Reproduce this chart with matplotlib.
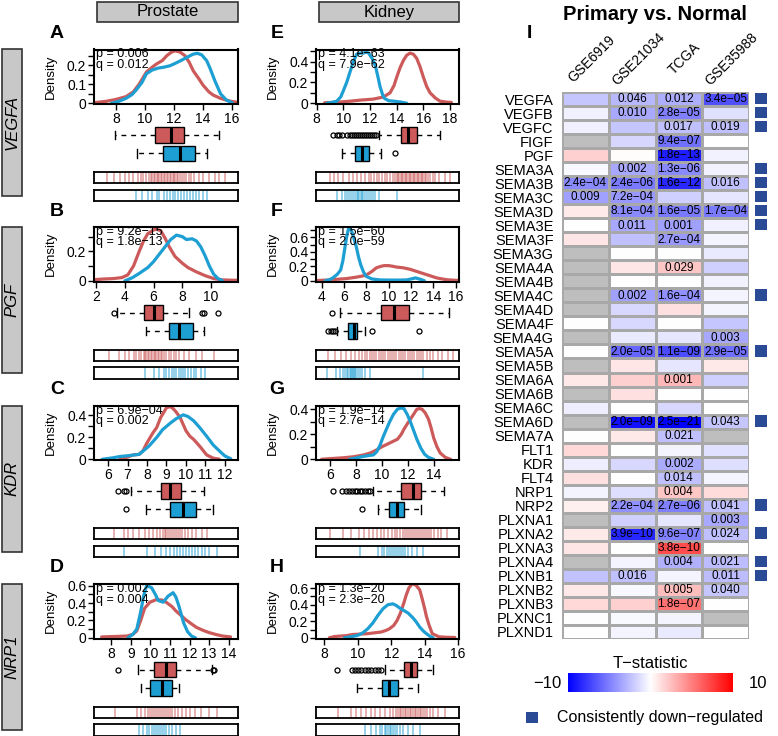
import matplotlib
matplotlib.use('Agg')
import matplotlib.pyplot as plt
import numpy as np
from matplotlib.patches import Rectangle

plt.rcParams['font.family'] = ['Liberation Sans', 'DejaVu Sans']

# ---------------- data: density curves ----------------
A_red_x = [6.5, 7.3, 8.0, 8.7, 9.2, 9.6, 10.1, 10.5, 10.8, 11.2, 11.5, 11.8, 12.07, 12.4, 12.76, 13.05, 13.33, 13.7, 14.0, 14.4, 14.7, 15.2, 15.8, 16.3]
A_red_y = [0.003, 0.01, 0.02, 0.035, 0.06, 0.1, 0.164, 0.19, 0.207, 0.225, 0.25, 0.268, 0.276, 0.27, 0.25, 0.215, 0.17, 0.13, 0.095, 0.06, 0.043, 0.026, 0.012, 0.006]
A_blue_x = [7.7, 8.2, 8.7, 9.1, 9.4, 9.8, 10.1, 10.5, 10.9, 11.3, 11.7, 12.0, 12.4, 12.8, 13.3, 13.6, 13.9, 14.25, 14.5, 14.8, 15.2, 15.6, 16.0]
A_blue_y = [0.0, 0.01, 0.026, 0.045, 0.07, 0.11, 0.155, 0.175, 0.185, 0.19, 0.197, 0.207, 0.222, 0.238, 0.258, 0.263, 0.255, 0.224, 0.18, 0.12, 0.05, 0.017, 0.003]

B_red_x = [1.9, 2.5, 3.2, 3.8, 4.2, 4.6, 5.0, 5.3, 5.6, 6.0, 6.2, 6.5, 6.8, 7.1, 7.5, 8.0, 8.4, 9.0, 9.6, 10.2, 10.8, 11.4, 11.9]
B_red_y = [0.008, 0.012, 0.015, 0.022, 0.04, 0.1, 0.2, 0.27, 0.32, 0.345, 0.35, 0.34, 0.29, 0.23, 0.165, 0.12, 0.09, 0.06, 0.035, 0.015, 0.006, 0.004, 0.003]
B_blue_x = [4.0, 4.5, 5.0, 5.6, 6.0, 6.4, 6.8, 7.2, 7.6, 8.0, 8.3, 8.7, 9.0, 9.3, 9.6, 9.9, 10.2, 10.5, 10.8]
B_blue_y = [0.0, 0.02, 0.05, 0.09, 0.13, 0.18, 0.23, 0.28, 0.31, 0.3, 0.28, 0.285, 0.27, 0.23, 0.17, 0.1, 0.045, 0.015, 0.002]

C_red_x = [6.6, 7.0, 7.3, 7.6, 7.8, 8.0, 8.3, 8.5, 8.7, 9.0, 9.2, 9.35, 9.5, 9.7, 10.0, 10.2, 10.4, 10.7, 11.06, 11.4, 11.7]
C_red_y = [0.005, 0.02, 0.04, 0.045, 0.08, 0.15, 0.24, 0.29, 0.38, 0.47, 0.48, 0.46, 0.43, 0.38, 0.26, 0.21, 0.18, 0.12, 0.04, 0.01, 0.002]
C_blue_x = [5.7, 6.2, 6.6, 7.0, 7.6, 8.1, 8.5, 8.8, 9.2, 9.5, 9.86, 10.1, 10.4, 10.7, 11.06, 11.4, 11.75, 12.0, 12.3]
C_blue_y = [0.0, 0.012, 0.025, 0.032, 0.045, 0.12, 0.2, 0.27, 0.33, 0.37, 0.405, 0.39, 0.35, 0.29, 0.21, 0.13, 0.07, 0.03, 0.005]

D_red_x = [7.5, 8.2, 8.8, 9.1, 9.3, 9.5, 9.7, 9.97, 10.3, 10.6, 10.8, 11.1, 11.3, 11.6, 11.8, 12.1, 12.35, 12.7, 13.0, 13.4, 13.7, 14.1]
D_red_y = [0.01, 0.015, 0.02, 0.04, 0.08, 0.2, 0.34, 0.41, 0.44, 0.435, 0.41, 0.36, 0.31, 0.25, 0.21, 0.16, 0.12, 0.085, 0.06, 0.035, 0.02, 0.01]
D_blue_x = [8.85, 9.1, 9.3, 9.5, 9.65, 9.8, 10.05, 10.25, 10.4, 10.65, 10.9, 11.16, 11.3, 11.45, 11.7, 11.9, 12.1, 12.3]
D_blue_y = [0.0, 0.04, 0.1, 0.3, 0.48, 0.6, 0.58, 0.5, 0.43, 0.41, 0.48, 0.52, 0.47, 0.37, 0.17, 0.07, 0.02, 0.0]

E_red_x = [8.6, 9.5, 10.5, 11.25, 12.25, 13.0, 13.5, 13.8, 14.0, 14.25, 14.5, 14.75, 15.0, 15.25, 15.5, 15.75, 16.0, 16.25, 16.5, 16.9, 17.25, 17.7, 18.1]
E_red_y = [0.005, 0.01, 0.02, 0.03, 0.04, 0.06, 0.1, 0.17, 0.25, 0.34, 0.41, 0.46, 0.48, 0.47, 0.43, 0.35, 0.25, 0.16, 0.1, 0.05, 0.02, 0.012, 0.008]
E_blue_x = [8.75, 9.2, 9.5, 9.8, 10.0, 10.25, 10.5, 10.75, 11.0, 11.25, 11.5, 11.7, 11.9, 12.15, 12.4, 12.6, 12.75, 12.95, 13.1, 13.4, 13.8, 14.3, 14.75]
E_blue_y = [0.0, 0.01, 0.02, 0.06, 0.12, 0.2, 0.3, 0.4, 0.47, 0.48, 0.48, 0.49, 0.48, 0.43, 0.36, 0.25, 0.16, 0.08, 0.045, 0.025, 0.02, 0.012, 0.0]

F_red_x = [3.5, 4.5, 5.3, 6.2, 7.1, 7.6, 8.0, 8.5, 8.9, 9.3, 9.6, 10.0, 10.4, 10.7, 11.3, 11.9, 12.5, 13.1, 13.7, 14.3, 14.8, 15.2, 15.8, 16.2]
F_red_y = [0.003, 0.01, 0.02, 0.03, 0.05, 0.065, 0.08, 0.13, 0.18, 0.2, 0.21, 0.21, 0.2, 0.19, 0.18, 0.16, 0.13, 0.1, 0.07, 0.04, 0.025, 0.015, 0.008, 0.005]
F_blue_x = [4.3, 4.7, 5.0, 5.4, 5.7, 5.9, 6.1, 6.25, 6.4, 6.55, 6.7, 6.9, 7.1, 7.3, 7.5, 7.75, 8.0, 8.5, 9.2, 10.0, 11.0, 11.6, 12.0, 12.4, 12.85, 13.2]
F_blue_y = [0.0, 0.015, 0.04, 0.09, 0.15, 0.28, 0.48, 0.62, 0.72, 0.73, 0.68, 0.58, 0.47, 0.33, 0.22, 0.12, 0.06, 0.025, 0.012, 0.01, 0.01, 0.012, 0.025, 0.04, 0.02, 0.0]

G_red_x = [5.35, 6.0, 7.0, 7.8, 8.6, 9.1, 9.6, 10.0, 10.4, 10.8, 11.2, 11.5, 11.7, 12.0, 12.2, 12.45, 12.7, 12.9, 13.1, 13.35, 13.6, 13.8, 14.0, 14.25, 14.5, 14.9, 15.3]
G_red_y = [0.0, 0.005, 0.012, 0.02, 0.035, 0.05, 0.075, 0.1, 0.12, 0.14, 0.16, 0.2, 0.24, 0.29, 0.32, 0.36, 0.4, 0.405, 0.4, 0.37, 0.32, 0.25, 0.17, 0.1, 0.05, 0.015, 0.0]
G_blue_x = [7.5, 8.0, 8.5, 9.0, 9.35, 9.6, 9.85, 10.1, 10.35, 10.6, 10.9, 11.2, 11.45, 11.7, 11.95, 12.2, 12.45, 12.7, 13.0, 13.3, 13.6, 14.0]
G_blue_y = [0.0, 0.01, 0.022, 0.03, 0.035, 0.06, 0.11, 0.18, 0.24, 0.3, 0.36, 0.4, 0.41, 0.405, 0.36, 0.3, 0.23, 0.16, 0.09, 0.04, 0.015, 0.0]

H_red_x = [8.3, 8.6, 8.9, 9.3, 9.7, 10.2, 10.6, 11.0, 11.4, 11.7, 11.9, 12.15, 12.35, 12.55, 12.75, 12.9, 13.05, 13.2, 13.35, 13.5, 13.7, 13.85, 14.0, 14.1, 14.25, 14.45, 14.85, 15.3, 15.8]
H_red_y = [0.0, 0.015, 0.02, 0.025, 0.04, 0.045, 0.05, 0.06, 0.07, 0.09, 0.11, 0.15, 0.21, 0.3, 0.42, 0.52, 0.6, 0.64, 0.65, 0.63, 0.58, 0.47, 0.35, 0.26, 0.16, 0.05, 0.012, 0.006, 0.004]
H_blue_x = [9.2, 9.6, 10.0, 10.3, 10.6, 10.9, 11.2, 11.5, 11.8, 12.1, 12.3, 12.5, 12.75, 13.0, 13.3, 13.5, 13.7, 13.9, 14.1, 14.3, 14.5]
H_blue_y = [0.0, 0.012, 0.03, 0.06, 0.11, 0.18, 0.27, 0.35, 0.4, 0.41, 0.39, 0.36, 0.33, 0.3, 0.24, 0.19, 0.13, 0.085, 0.05, 0.02, 0.0]

# ---------------- box statistics [whislo, q1, med, q3, whishi] + fliers ----------------
A_red_box = [7.93, 10.69, 11.77, 12.69, 15.06]; A_red_out = []
A_blue_box = [9.43, 11.22, 12.41, 13.45, 14.3]; A_blue_out = []
B_red_box = [3.45, 5.35, 6.02, 6.68, 8.5]; B_red_out = [3.25, 9.37, 9.53, 10.5]
B_blue_box = [5.5, 7.1, 7.8, 8.78, 9.53]; B_blue_out = []
C_red_box = [7.2, 8.74, 9.17, 9.77, 10.9]; C_red_out = [6.5, 6.8, 6.9]
C_blue_box = [7.97, 9.17, 9.83, 10.5, 11.4]; C_blue_out = [6.94]
D_red_box = [9.37, 10.17, 10.77, 11.33, 13.13]; D_red_out = [8.34, 13.2, 13.25]
D_blue_box = [9.54, 10.0, 10.6, 11.08, 11.47]; D_blue_out = []
E_red_box = [12.7, 14.3, 14.85, 15.55, 17.25]
E_red_out = [9.25, 9.5, 9.7, 9.9, 10.3, 10.5, 10.65, 10.8, 10.95, 11.1, 11.25, 11.4, 11.55, 11.7, 11.85, 12.0, 12.15, 12.3, 12.45]
E_blue_box = [9.9, 10.9, 11.4, 11.95, 12.8]; E_blue_out = [13.9]
F_red_box = [5.6, 9.3, 10.5, 11.8, 15.4]; F_red_out = [4.9]
F_blue_box = [5.4, 6.4, 6.9, 7.15, 7.9]; F_blue_out = [4.6, 4.8, 5.0, 5.15, 8.5, 12.7]
G_red_box = [9.35, 11.47, 12.4, 13.0, 14.8]
G_red_out = [6.26, 6.9, 7.2, 7.5, 7.7, 7.9, 8.1, 8.3, 8.5, 8.7, 8.9, 9.1]
G_blue_box = [9.74, 10.57, 11.16, 11.7, 13.0]; G_blue_out = [8.5]
H_red_box = [11.6, 12.75, 13.17, 13.56, 14.5]
H_red_out = [8.77, 9.67, 9.85, 10.0, 10.2, 10.4, 10.6, 10.8, 11.0, 11.2, 11.4]
H_blue_box = [9.96, 11.44, 11.85, 12.4, 13.6]; H_blue_out = []

# ---------------- rug values ----------------
A_red_rug = [7.4, 7.9, 8.3, 8.6, 8.9, 9.2, 9.5, 9.7, 9.9, 10.1, 10.25, 10.4, 10.5, 10.6, 10.7, 10.8, 10.9, 11.0, 11.1, 11.2, 11.3, 11.4, 11.5, 11.6, 11.7, 11.8, 11.9, 12.0, 12.1, 12.2, 12.3, 12.4, 12.55, 12.7, 12.85, 13.0, 13.2, 13.4, 13.7, 14.0, 14.4, 14.8, 15.1, 15.5]
A_blue_rug = [9.4, 9.8, 10.2, 10.5, 10.8, 11.0, 11.3, 11.5, 11.7, 11.9, 12.1, 12.3, 12.5, 12.7, 12.9, 13.1, 13.3, 13.5, 13.7, 14.0, 14.3]
B_red_rug = [2.9, 3.6, 4.0, 4.3, 4.6, 4.8, 5.0, 5.15, 5.3, 5.4, 5.5, 5.6, 5.7, 5.8, 5.9, 6.0, 6.1, 6.2, 6.3, 6.4, 6.5, 6.6, 6.75, 6.9, 7.05, 7.2, 7.4, 7.6, 7.8, 8.1, 8.5, 9.0, 9.4, 10.2]
B_blue_rug = [5.4, 6.0, 6.4, 6.7, 6.9, 7.1, 7.3, 7.45, 7.6, 7.75, 7.9, 8.05, 8.2, 8.4, 8.6, 8.8, 9.0, 9.3, 9.6]
C_red_rug = [6.3, 6.8, 7.0, 7.3, 7.6, 7.9, 8.1, 8.3, 8.5, 8.65, 8.8, 8.9, 9.0, 9.1, 9.2, 9.3, 9.4, 9.5, 9.6, 9.7, 9.8, 9.95, 10.1, 10.3, 10.5, 10.8, 11.1]
C_blue_rug = [6.8, 8.0, 8.4, 8.7, 9.0, 9.2, 9.4, 9.55, 9.7, 9.85, 10.0, 10.15, 10.3, 10.45, 10.6, 10.8, 11.0, 11.2, 11.6]
D_red_rug = [8.2, 9.3, 9.5, 9.7, 9.85, 10.0, 10.1, 10.2, 10.3, 10.4, 10.5, 10.6, 10.7, 10.8, 10.9, 11.0, 11.1, 11.25, 11.4, 11.6, 11.8, 12.0, 12.3, 12.6, 13.0, 13.4]
D_blue_rug = [9.4, 9.6, 9.8, 9.95, 10.1, 10.2, 10.3, 10.4, 10.5, 10.6, 10.7, 10.8, 10.95, 11.1, 11.3, 11.5]
E_red_rug = [9.0, 9.3, 9.6, 10.0, 10.4, 10.7, 11.0, 11.3, 11.6, 11.9, 12.1, 12.3, 12.5, 12.7, 12.9, 13.1, 13.3, 13.5, 13.7, 13.85, 14.0, 14.1, 14.2, 14.3, 14.4, 14.5, 14.6, 14.7, 14.8, 14.9, 15.0, 15.1, 15.2, 15.3, 15.4, 15.5, 15.6, 15.7, 15.8, 15.9, 16.0, 16.1, 16.2, 16.35, 16.5, 16.7, 16.9, 17.2, 17.6, 18.0]
E_blue_rug = [9.5, 9.9, 10.1, 10.3, 10.45, 10.6, 10.75, 10.9, 11.0, 11.1, 11.2, 11.3, 11.4, 11.5, 11.6, 11.75, 11.9, 12.05, 12.2, 12.4, 12.7, 14.0]
F_red_rug = [4.6, 5.2, 5.7, 6.2, 6.6, 7.0, 7.3, 7.6, 7.9, 8.1, 8.3, 8.5, 8.7, 8.9, 9.1, 9.3, 9.5, 9.7, 9.9, 10.1, 10.3, 10.5, 10.7, 10.9, 11.1, 11.3, 11.5, 11.7, 11.9, 12.1, 12.3, 12.5, 12.7, 12.9, 13.1, 13.4, 13.7, 14.0, 14.4, 14.8, 15.3, 15.8]
F_blue_rug = [4.45, 5.3, 5.6, 5.9, 6.1, 6.25, 6.4, 6.5, 6.6, 6.7, 6.8, 6.9, 7.0, 7.1, 7.25, 7.4, 7.6, 7.9, 8.3, 13.1]
G_red_rug = [6.0, 7.0, 7.6, 8.2, 8.6, 9.0, 9.3, 9.6, 9.9, 10.2, 10.5, 10.8, 11.0, 11.2, 11.4, 11.6, 11.8, 11.95, 12.1, 12.25, 12.4, 12.55, 12.7, 12.85, 13.0, 13.15, 13.3, 13.45, 13.6, 13.8, 14.0, 14.3, 14.6, 15.0]
G_blue_rug = [8.3, 9.7, 10.0, 10.2, 10.4, 10.55, 10.7, 10.85, 11.0, 11.15, 11.3, 11.45, 11.6, 11.8, 12.0, 12.3, 12.7, 13.2]
H_red_rug = [8.8, 9.6, 9.9, 10.2, 10.5, 10.8, 11.0, 11.3, 11.6, 11.9, 12.1, 12.3, 12.4, 12.5, 12.6, 12.7, 12.8, 12.9, 13.0, 13.1, 13.2, 13.3, 13.4, 13.5, 13.6, 13.7, 13.8, 13.9, 14.0, 14.15, 14.3, 14.5, 14.8, 15.2]
H_blue_rug = [10.4, 10.8, 11.1, 11.3, 11.45, 11.6, 11.7, 11.8, 11.9, 12.0, 12.1, 12.2, 12.35, 12.5, 12.7, 13.0, 13.3, 13.7]

# p / q values
p_values = ['0.006', '9.2e\u221215', '6.9e\u221204', '0.002', '4.1e\u221263', '1.5e\u221260', '1.9e\u221214', '1.3e\u221220']
q_values = ['0.012', '1.8e\u221213', '0.002', '0.004', '7.9e\u221262', '2.0e\u221259', '2.7e\u221214', '2.3e\u221220']
row_genes = ['VEGFA', 'PGF', 'KDR', 'NRP1']
tissues = ['Prostate', 'Kidney']

# ---------------- heatmap data ----------------
genes = ['VEGFA', 'VEGFB', 'VEGFC', 'FIGF', 'PGF', 'SEMA3A', 'SEMA3B', 'SEMA3C', 'SEMA3D', 'SEMA3E',
         'SEMA3F', 'SEMA3G', 'SEMA4A', 'SEMA4B', 'SEMA4C', 'SEMA4D', 'SEMA4F', 'SEMA4G', 'SEMA5A', 'SEMA5B',
         'SEMA6A', 'SEMA6B', 'SEMA6C', 'SEMA6D', 'SEMA7A', 'FLT1', 'KDR', 'FLT4', 'NRP1', 'NRP2',
         'PLXNA1', 'PLXNA2', 'PLXNA3', 'PLXNA4', 'PLXNB1', 'PLXNB2', 'PLXNB3', 'PLXNC1', 'PLXND1']
datasets = ['GSE6919', 'GSE21034', 'TCGA', 'GSE35988']
nan = float('nan')
t_gse6919 = [-2.2, -0.6, -0.6, nan, 1.8, -0.3, -4.6, -3.7, 0.8, 0.0, 1.0, nan, nan, nan, nan, nan, 0.0, nan, 0.0, nan,
             0.9, nan, -0.7, nan, 0.0, 1.5, -0.7, 1.2, -0.4, 0.6, nan, 0.8, 1.0, nan, -2.4, 0.9, 1.5, 0.0, 0.0]
t_gse21034 = [-2.8, -3.4, -2.2, -1.6, 0.1, -3.4, -5.2, -4.0, -4.6, -3.4, -2.5, 0.0, 1.0, 0.0, -3.7, -1.5, -1.5, -0.8, -6.0, 1.0,
              1.8, 1.2, 0.0, -9.3, 0.9, 0.0, -1.5, 0.0, -1.3, -4.3, -1.8, -8.5, 0.0, -0.4, -2.5, -0.3, 1.8, -0.3, -0.4]
t_tcga = [-3.2, -5.0, -2.5, -5.6, -8.8, -4.6, -8.4, -1.8, -5.2, -3.7, -4.0, 0.0, 2.2, 0.0, -4.3, 1.2, 0.0, -1.0, -7.0, -1.0,
          2.8, 0.0, -1.5, -10.0, -2.5, -0.4, -3.3, -2.5, 2.2, -5.0, -1.0, -5.0, 7.0, -3.1, -0.4, 2.5, 5.5, -0.4, -0.8]
t_gse35988 = [-6.8, -1.2, -2.5, 0.0, -0.5, -0.5, -2.5, -1.0, -5.2, -0.6, -0.4, -0.8, -1.8, -0.5, -0.4, -0.4, -2.2, -3.4, -5.6, 0.9,
              -1.8, 0.0, 0.0, -2.2, nan, -1.2, -1.3, -0.4, 1.4, -2.5, -3.4, -2.5, 0.0, -2.6, -2.6, -2.2, 0.0, nan, 0.0]
p_gse6919 = {'SEMA3B': '2.4e\u221204', 'SEMA3C': '0.009'}
p_gse21034 = {'VEGFA': '0.046', 'VEGFB': '0.010', 'SEMA3A': '0.002', 'SEMA3B': '2.4e\u221206', 'SEMA3C': '7.2e\u221204',
              'SEMA3D': '8.1e\u221204', 'SEMA3E': '0.011', 'SEMA4C': '0.002', 'SEMA5A': '2.0e\u221205', 'SEMA6D': '2.0e\u221209',
              'NRP2': '2.2e\u221204', 'PLXNA2': '3.9e\u221210', 'PLXNB1': '0.016'}
p_tcga = {'VEGFA': '0.012', 'VEGFB': '2.8e\u221205', 'VEGFC': '0.017', 'FIGF': '9.4e\u221207', 'PGF': '1.8e\u221213',
          'SEMA3A': '1.3e\u221206', 'SEMA3B': '1.6e\u221212', 'SEMA3D': '1.6e\u221205', 'SEMA3E': '0.001', 'SEMA3F': '2.7e\u221204',
          'SEMA4A': '0.029', 'SEMA4C': '1.6e\u221204', 'SEMA5A': '1.1e\u221209', 'SEMA6A': '0.001', 'SEMA6D': '2.5e\u221221',
          'SEMA7A': '0.021', 'KDR': '0.002', 'FLT4': '0.014', 'NRP1': '0.004', 'NRP2': '2.7e\u221206', 'PLXNA2': '9.6e\u221207',
          'PLXNA3': '3.8e\u221210', 'PLXNA4': '0.004', 'PLXNB2': '0.005', 'PLXNB3': '1.8e\u221207'}
p_gse35988 = {'VEGFA': '3.4e\u221205', 'VEGFC': '0.019', 'SEMA3B': '0.016', 'SEMA3D': '1.7e\u221204', 'SEMA4G': '0.003',
              'SEMA5A': '2.9e\u221205', 'SEMA6D': '0.043', 'NRP2': '0.041', 'PLXNA1': '0.003', 'PLXNA2': '0.024',
              'PLXNA4': '0.021', 'PLXNB1': '0.011', 'PLXNB2': '0.040'}
down_regulated = ['VEGFA', 'VEGFB', 'VEGFC', 'SEMA3A', 'SEMA3B', 'SEMA3C', 'SEMA3D', 'SEMA3E', 'SEMA4C',
                  'SEMA5A', 'SEMA6D', 'NRP2', 'PLXNA2', 'PLXNA4', 'PLXNB1']

# ---------------- styling ----------------
RED = '#CD5A5A'
BLUE = '#1E9FD3'
W, H = 778, 736
fig = plt.figure(figsize=(W / 100, H / 100), dpi=100)


def px_ax(x0, y0, x1, y1):
    return fig.add_axes([x0 / W, 1 - y1 / H, (x1 - x0) / W, (y1 - y0) / H])


def fx(x):
    return x / W


def fy(y):
    return 1 - y / H


panels = [
    ('A', 0, 0, A_red_x, A_red_y, A_blue_x, A_blue_y, A_red_box, A_red_out, A_blue_box, A_blue_out, A_red_rug, A_blue_rug,
     (6.5, 16.4), [8, 10, 12, 14, 16], 0.283, [0, 0.1, 0.2], [0.05, 0.15, 0.25]),
    ('B', 1, 0, B_red_x, B_red_y, B_blue_x, B_blue_y, B_red_box, B_red_out, B_blue_box, B_blue_out, B_red_rug, B_blue_rug,
     (1.84, 11.9), [2, 4, 6, 8, 10], 0.365, [0, 0.2], [0.1, 0.3]),
    ('C', 2, 0, C_red_x, C_red_y, C_blue_x, C_blue_y, C_red_box, C_red_out, C_blue_box, C_blue_out, C_red_rug, C_blue_rug,
     (5.28, 12.67), [6, 7, 8, 9, 10, 11, 12], 0.49, [0, 0.2, 0.4], [0.1, 0.3]),
    ('D', 3, 0, D_red_x, D_red_y, D_blue_x, D_blue_y, D_red_box, D_red_out, D_blue_box, D_blue_out, D_red_rug, D_blue_rug,
     (7.11, 14.48), [8, 9, 10, 11, 12, 13, 14], 0.62, [0, 0.2, 0.4, 0.6], [0.1, 0.3, 0.5]),
    ('E', 0, 1, E_red_x, E_red_y, E_blue_x, E_blue_y, E_red_box, E_red_out, E_blue_box, E_blue_out, E_red_rug, E_blue_rug,
     (7.95, 18.67), [8, 10, 12, 14, 16, 18], 0.515, [0, 0.2, 0.4], [0.1, 0.3, 0.5]),
    ('F', 1, 1, F_red_x, F_red_y, F_blue_x, F_blue_y, F_red_box, F_red_out, F_blue_box, F_blue_out, F_red_rug, F_blue_rug,
     (3.49, 16.3), [4, 6, 8, 10, 12, 14, 16], 0.745, [0, 0.2, 0.4, 0.6], [0.1, 0.3, 0.5, 0.7]),
    ('G', 2, 1, G_red_x, G_red_y, G_blue_x, G_blue_y, G_red_box, G_red_out, G_blue_box, G_blue_out, G_red_rug, G_blue_rug,
     (4.92, 15.95), [6, 8, 10, 12, 14], 0.43, [0, 0.2, 0.4], [0.1, 0.3]),
    ('H', 3, 1, H_red_x, H_red_y, H_blue_x, H_blue_y, H_red_box, H_red_out, H_blue_box, H_blue_out, H_red_rug, H_blue_rug,
     (7.5, 16.05), [8, 10, 12, 14, 16], 0.65, [0, 0.2, 0.4, 0.6], [0.1, 0.3, 0.5]),
]

row_tops = [49.5, 227, 405.5, 584]
col_x = [(94, 238), (316, 459)]
letter_y = [34, 212, 389, 568]
letter_x = [57, 277]


def fmt_y(v):
    return '0' if v == 0 else ('%g' % v)


for k, (letter, r, c, rx, ry, bx, by, rbox, rout, bbox, bout, rrug, brug, xl, xt, ytop, ymaj, ymin) in enumerate(panels):
    T = row_tops[r]
    x0, x1 = col_x[c]
    ax = px_ax(x0, T, x1, T + 54.5)
    ax.plot(rx, ry, color=RED, lw=2.3, solid_joinstyle='round', solid_capstyle='round')
    ax.plot(bx, by, color=BLUE, lw=2.3, solid_joinstyle='round', solid_capstyle='round')
    ax.set_xlim(*xl)
    ax.set_ylim(-0.004 * ytop / 0.3, ytop)
    ax.set_xticks(xt)
    ax.set_xticklabels([str(v) for v in xt])
    ax.set_yticks(ymaj)
    ax.set_yticklabels([fmt_y(v) for v in ymaj])
    ax.set_yticks(ymin, minor=True)
    ax.tick_params(which='both', direction='out', length=4, width=1, labelsize=10, pad=1.5)
    ax.tick_params(axis='x', pad=2)
    for s in ax.spines.values():
        s.set_linewidth(1.5)
    fig.text(fx(x0 - 43), fy(T + 27), 'Density', rotation=90, ha='center', va='center', fontsize=9.5)
    fig.text(fx(x0 + 2), fy(T + 5), 'p = ' + p_values[k], ha='left', va='center', fontsize=9)
    fig.text(fx(x0 + 2), fy(T + 15.5), 'q = ' + q_values[k], ha='left', va='center', fontsize=9)
    fig.text(fx(letter_x[c]), fy(letter_y[r]), letter, ha='center', va='center', fontsize=14, fontweight='bold')

    # boxplots
    axb = px_ax(x0, T + 74, x1, T + 116)
    stats = []
    for bxs, outs in ((rbox, rout), (bbox, bout)):
        stats.append(dict(whislo=bxs[0], q1=bxs[1], med=bxs[2], q3=bxs[3], whishi=bxs[4], fliers=outs))
    kw = dict(positions=[0.726, 0.286], widths=0.36, patch_artist=True, showfliers=True,
              boxprops=dict(lw=1.0, edgecolor='black'), medianprops=dict(color='black', lw=2.2),
              whiskerprops=dict(lw=1.0, linestyle=(0, (3.5, 3.5))), capprops=dict(lw=1.0),
              flierprops=dict(marker='o', mfc='none', mec='black', ms=3.6, mew=0.9), capwidths=0.2)
    try:
        res = axb.bxp(stats, orientation='horizontal', **kw)
    except TypeError:
        res = axb.bxp(stats, vert=False, **kw)
    res['boxes'][0].set_facecolor(RED)
    res['boxes'][1].set_facecolor(BLUE)
    axb.set_xlim(*xl)
    axb.set_ylim(0, 1)
    axb.axis('off')

    # rugs
    for (yy0, yy1, vals, col) in ((T + 122.5, T + 133.5, rrug, RED), (T + 140, T + 151.5, brug, BLUE)):
        axr = px_ax(x0, yy0, x1, yy1)
        axr.vlines(vals, 0, 1, colors=col, alpha=0.6, lw=1.1)
        axr.set_xlim(*xl)
        axr.set_ylim(0, 1)
        axr.set_xticks([])
        axr.set_yticks([])
        for s in axr.spines.values():
            s.set_linewidth(1.3)

# row label boxes
for r, g in enumerate(row_genes):
    T = row_tops[r]
    fig.patches.append(Rectangle((fx(2), fy(T + 146)), 20 / W, 146 / H, transform=fig.transFigure,
                                 facecolor='#C8C8C8', edgecolor='#333333', lw=1.2))
    fig.text(fx(12), fy(T + 73), g, rotation=90, ha='center', va='center', fontsize=12, fontstyle='italic')

# tissue headers
for c, tname in enumerate(tissues):
    x0, x1 = col_x[c]
    fig.patches.append(Rectangle((fx(x0 + 3), fy(22)), (x1 - x0 - 3) / W, 20 / H, transform=fig.transFigure,
                                 facecolor='#C8C8C8', edgecolor='#333333', lw=1.2))
    fig.text(fx((x0 + 3 + x1) / 2), fy(12), tname, ha='center', va='center', fontsize=12)

# ---------------- heatmap ----------------
n = len(genes)
data = np.array([t_gse6919, t_gse21034, t_tcga, t_gse35988]).T
cmap = plt.get_cmap('bwr').copy()
cmap.set_bad('#BEBEBE')
axh = px_ax(562, 92, 749, 639)
axh.pcolormesh(np.ma.masked_invalid(data), cmap=cmap, vmin=-10, vmax=10, edgecolors='#A8A8A8', linewidth=0.8)
axh.set_xlim(0, 4)
axh.set_ylim(n, 0)
axh.set_xticks([])
axh.set_yticks(np.arange(n) + 0.5)
axh.set_yticklabels(genes, fontsize=10.5)
axh.tick_params(axis='y', length=0, pad=6)
for s in axh.spines.values():
    s.set_visible(False)
for j, plab in enumerate([p_gse6919, p_gse21034, p_tcga, p_gse35988]):
    for i, g in enumerate(genes):
        if g in plab:
            axh.text(j + 0.5, i + 0.52, plab[g], ha='center', va='center', fontsize=8.5)

colw = (749 - 562) / 4
for j, dname in enumerate(datasets):
    cx = 562 + colw * (j + 0.5)
    fig.text(fx(cx + 6), fy(59), dname, rotation=45, ha='center', va='center', rotation_mode='anchor', fontsize=10)

axs = px_ax(755, 92, 767, 639)
axs.set_xlim(0, 1)
axs.set_ylim(n, 0)
for i, g in enumerate(genes):
    if g in down_regulated:
        axs.add_patch(Rectangle((0, i + 0.05), 1, 0.82, facecolor='#2B4A96', edgecolor='none'))
axs.axis('off')

fig.text(fx(655), fy(15), 'Primary vs. Normal', ha='center', va='center', fontsize=14.5, fontweight='bold')
fig.text(fx(529), fy(33), 'I', ha='center', va='center', fontsize=14, fontweight='bold')

# colour bar
axc = px_ax(568, 673, 733, 692)
axc.imshow(np.linspace(-10, 10, 256)[None, :], cmap='bwr', vmin=-10, vmax=10, aspect='auto', extent=[-10, 10, 0, 1])
axc.axis('off')
fig.text(fx(650), fy(663), 'T\u2212statistic', ha='center', va='center', fontsize=12)
fig.text(fx(547), fy(683), '\u221210', ha='center', va='center', fontsize=12)
fig.text(fx(758), fy(683), '10', ha='center', va='center', fontsize=12)

# legend
fig.patches.append(Rectangle((fx(526), fy(723)), 12 / W, 11 / H, transform=fig.transFigure,
                             facecolor='#2B4A96', edgecolor='none'))
fig.text(fx(557), fy(717.5), 'Consistently down\u2212regulated', ha='left', va='center', fontsize=11.5)

fig.savefig('out.png', dpi=100)
